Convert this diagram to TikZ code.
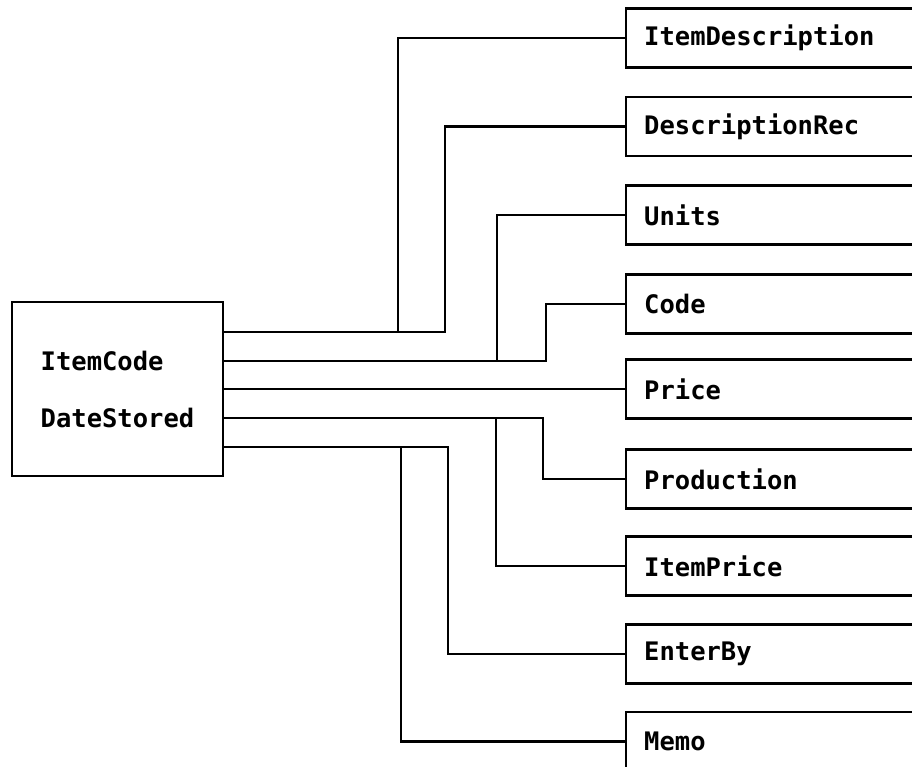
\documentclass[tikz,border=0pt]{standalone}
\usepackage{fontspec}
\newfontfamily\pixfont{DejaVu Sans Mono}
\begin{document}
\begin{tikzpicture}[x=1pt,y=-1pt,line width=2.4pt,
  pix/.style={font=\pixfont\bfseries\fontsize{25.5}{57}\selectfont},
  field/.style={draw,pix,anchor=west,minimum height=59pt,text width=284pt,inner xsep=18pt,align=left},
  recbox/.style={draw,pix,minimum width=211pt,minimum height=174pt,align=left},
  link/.style={line width=2.4pt}]
\useasboundingbox (0,0) rectangle (912,767);
\clip (0,0) rectangle (912,767);
\node[recbox] (rec) at (117.5,389) {ItemCode\\DateStored};
\node[field] (f1) at (625,38) {ItemDescription};
\node[field] (f2) at (625,126.5) {DescriptionRec};
\node[field] (f3) at (625,215) {Units};
\node[field] (f4) at (625,304) {Code};
\node[field] (f5) at (625,389) {Price};
\node[field] (f6) at (625,479) {Production};
\node[field] (f7) at (625,566) {ItemPrice};
\node[field] (f8) at (625,654) {EnterBy};
\node[field] (f9) at (625,741.5) {Memo};
\coordinate (t1) at (223,332);
\coordinate (t2) at (223,361);
\coordinate (t3) at (223,389);
\coordinate (t4) at (223,418);
\coordinate (t5) at (223,447);
\draw[link] (t1) -- (445,332) |- (f2.west);
\draw[link] (398,332) |- (f1.west);
\draw[link] (t2) -- (546,361) |- (f4.west);
\draw[link] (497,361) |- (f3.west);
\draw[link] (t3) -- (f5.west);
\draw[link] (t4) -- (543,418) |- (f6.west);
\draw[link] (496,418) |- (f7.west);
\draw[link] (t5) -- (448,447) |- (f8.west);
\draw[link] (401,447) |- (f9.west);
\end{tikzpicture}
\end{document}
